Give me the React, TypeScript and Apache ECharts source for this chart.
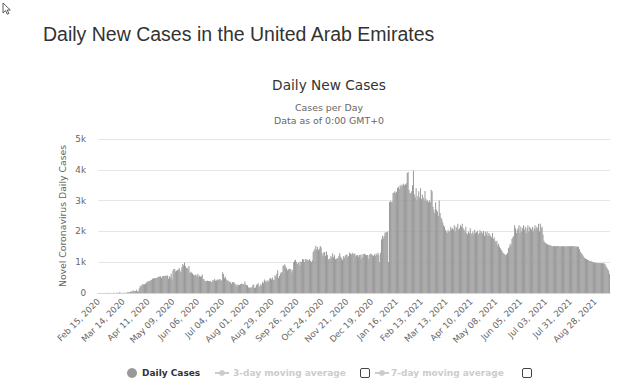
import React, { useEffect, useRef } from "react";
import * as echarts from "echarts";

// ---- Data (daily new cases) ----
const feb2020 = [0, 1, 0, 0, 0, 2, 0, 0, 2, 0, 0, 0, 6, 0, 0];
const mar2020 = [0, 0, 6, 0, 0, 0, 16, 0, 0, 29, 0, 11, 0, 0, 13, 0, 0, 15, 27, 27, 13, 45, 45, 50, 85, 72, 63, 63, 102, 41, 53];
const apr2020 = [150, 210, 240, 241, 294, 277, 283, 300, 331, 370, 376, 387, 398, 412, 432, 460, 477, 479, 484, 490, 483, 518, 525, 532, 536, 490, 541, 549, 552, 557];
const may2020 = [561, 564, 567, 462, 546, 502, 624, 441, 731, 781, 783, 698, 725, 747, 751, 812, 731, 674, 832, 941, 892, 994, 873, 812, 822, 779, 883, 638, 687, 661, 635];
const jun2020 = [596, 571, 596, 589, 540, 624, 528, 568, 528, 542, 600, 453, 450, 388, 378, 399, 398, 380, 392, 393, 359, 362, 426, 409, 458, 399, 403, 435, 420, 449];
const jul2020 = [458, 402, 414, 672, 613, 490, 532, 445, 403, 409, 385, 350, 358, 289, 348, 359, 339, 264, 294, 211, 266, 265, 258, 286, 300, 298, 290, 264, 375, 283, 254];
const aug2020 = [254, 189, 164, 179, 179, 189, 254, 277, 163, 179, 262, 295, 320, 202, 225, 291, 245, 365, 318, 435, 390, 347, 411, 364, 401, 461, 486, 435, 506, 428, 410];
const sep2020 = [574, 528, 627, 735, 483, 551, 634, 676, 673, 880, 900, 931, 860, 807, 730, 768, 790, 776, 772, 667, 750, 1002, 1050, 1083, 1005, 939, 978, 1010, 901, 1024];
const oct2020 = [1005, 1100, 1085, 1008, 1100, 1078, 1096, 1059, 1062, 1100, 1036, 1000, 1061, 1330, 1391, 1433, 1538, 1415, 1491, 1387, 1434, 1530, 1480, 1296, 1211, 1317, 1332, 1204, 1350, 1233, 1097];
const nov2020 = [1096, 1118, 1209, 1143, 1289, 1157, 1225, 1096, 1121, 1116, 1136, 1209, 1289, 1175, 1121, 1061, 1192, 1136, 1209, 1239, 1250, 1167, 1203, 1314, 1276, 1250, 1310, 1268, 1281, 1271];
const dec2020 = [1197, 1225, 1237, 1175, 1234, 1240, 1114, 1255, 1167, 1265, 1274, 1238, 1226, 1234, 1103, 1229, 1261, 1284, 1253, 1226, 1205, 1257, 1211, 1283, 1227, 1310, 1242, 1000, 1306, 1734, 1856];
const jan2021 = [1780, 1856, 1967, 1963, 1982, 2000, 1000, 2950, 2998, 2950, 2960, 3243, 3262, 3300, 3250, 3290, 3407, 3450, 3380, 3500, 3450, 3520, 3480, 3550, 3500, 3520, 3560, 3900, 3930, 3350, 3250];
const feb2021 = [3250, 3300, 3500, 3977, 3200, 3100, 3400, 3000, 3150, 3300, 3100, 3400, 3050, 3200, 3100, 3000, 3310, 3060, 2990, 3000, 2950, 3000, 2950, 3350, 3300, 2800, 2700, 2600];
const mar2021 = [2950, 2700, 2650, 2500, 3000, 2600, 2450, 2400, 2300, 2200, 2150, 2050, 2000, 1950, 2050, 1980, 2010, 2150, 2060, 2100, 2050, 2200, 2000, 2150, 2100, 2250, 2050, 2100, 2200, 2150, 2250];
const apr2021 = [2100, 2050, 2000, 2150, 1950, 1900, 2000, 1950, 2100, 1900, 1950, 2000, 1900, 2050, 1950, 1980, 2020, 1900, 1950, 2040, 1960, 2000, 1930, 2010, 1850, 1990, 1900, 2000, 1850, 1950];
const may2021 = [1900, 1850, 1800, 1950, 1750, 1800, 1700, 1650, 1700, 1550, 1600, 1500, 1450, 1400, 1350, 1300, 1280, 1250, 1230, 1250, 1300, 1450, 1500, 1600, 1550, 1750, 1800, 1850, 2200, 2100, 1950];
const jun2021 = [2050, 2100, 2200, 1950, 2150, 2000, 2100, 2200, 2050, 2150, 1950, 2100, 2200, 2000, 2150, 2100, 2050, 2150, 2000, 2100, 2200, 2050, 2150, 2100, 2250, 2000, 2250, 2100, 2150, 1900];
const jul2021 = [1700, 1650, 1620, 1600, 1580, 1570, 1560, 1550, 1540, 1530, 1519, 1521, 1522, 1514, 1517, 1527, 1525, 1515, 1512, 1520, 1511, 1529, 1510, 1518, 1513, 1521, 1516, 1528, 1519, 1525, 1511];
const aug2021 = [1522, 1515, 1527, 1520, 1512, 1510, 1508, 1505, 1498, 1430, 1350, 1300, 1270, 1220, 1180, 1140, 1110, 1100, 1080, 1070, 1050, 1040, 1030, 1020, 1010, 995, 985, 984, 980, 978, 976];
const sep2021 = [975, 972, 970, 968, 965, 963, 960, 930, 870, 820, 780, 720, 620];

const dailyCases = [
  ...feb2020, ...mar2020, ...apr2020, ...may2020, ...jun2020, ...jul2020,
  ...aug2020, ...sep2020, ...oct2020, ...nov2020, ...dec2020,
  ...jan2021, ...feb2021, ...mar2021, ...apr2021, ...may2021, ...jun2021,
  ...jul2021, ...aug2021, ...sep2021,
];

const monthNames = ["Jan", "Feb", "Mar", "Apr", "May", "Jun", "Jul", "Aug", "Sep", "Oct", "Nov", "Dec"];
const firstDay = Date.UTC(2020, 1, 15);
const categories = dailyCases.map((_, i) => {
  const d = new Date(firstDay + i * 86400000);
  return `${monthNames[d.getUTCMonth()]} ${String(d.getUTCDate()).padStart(2, "0")}, ${d.getUTCFullYear()}`;
});

const yTickLabels = ["0", "1k", "2k", "3k", "4k", "5k"];

const pageTitle = "Daily New Cases in the United Arab Emirates";
const chartTitle = "Daily New Cases";
const subtitleLines = ["Cases per Day", "Data as of 0:00 GMT+0"];
const yAxisTitle = "Novel Coronavirus Daily Cases";
const legendNames = ["Daily Cases", "3-day moving average", "7-day moving average"];

const SANS = "'DejaVu Sans', Verdana, sans-serif";

export default function App() {
  const ref = useRef<HTMLDivElement>(null);
  useEffect(() => {
    if (!ref.current) return;
    const chart = echarts.init(ref.current, undefined, { renderer: "svg" });
    const legendY = 373;
    chart.setOption({
      animation: false,
      backgroundColor: "#fff",
      grid: { left: 98, right: 18, top: 139, bottom: 99, containLabel: false },
      xAxis: {
        type: "category",
        data: categories,
        boundaryGap: true,
        axisLine: { lineStyle: { color: "#ccd6eb", width: 1 } },
        axisTick: { show: false },
        axisLabel: {
          interval: 27,
          rotate: 45,
          color: "#666",
          fontSize: 8.6,
          fontFamily: SANS,
          margin: 7,
        },
        splitLine: { show: false },
      },
      yAxis: {
        type: "value",
        min: 0,
        max: 5000,
        interval: 1000,
        axisLine: { show: false },
        axisTick: { show: false },
        axisLabel: {
          formatter: (v: number) => yTickLabels[Math.round(v / 1000)],
          color: "#666",
          fontSize: 8.8,
          fontFamily: SANS,
          margin: 12,
        },
        splitLine: { lineStyle: { color: "#e6e6e6", width: 1 } },
      },
      series: [
        {
          type: "bar",
          name: legendNames[0],
          data: dailyCases,
          barCategoryGap: "0%",
          itemStyle: { color: "#999999" },
          silent: true,
        },
      ],
      graphic: [
        {
          type: "polygon",
          shape: { points: [[3, 3], [3, 13], [5.5, 10.6], [7.4, 14.2], [8.9, 13.5], [7.1, 10], [10.3, 10]] },
          style: { fill: "#fff", stroke: "#333", lineWidth: 0.8 },
        },
        {
          type: "text",
          x: 43,
          y: 34,
          style: { text: pageTitle, fontSize: 19.5, fontFamily: "'Liberation Sans', Arial, sans-serif", fill: "#333", align: "left", verticalAlign: "middle" },
        },
        {
          type: "text",
          x: 329,
          y: 84.5,
          style: { text: chartTitle, fontSize: 13.7, fontFamily: SANS, fill: "#333", align: "center", verticalAlign: "middle" },
        },
        {
          type: "text",
          x: 329,
          y: 107,
          style: { text: subtitleLines[0], fontSize: 9.4, fontFamily: SANS, fill: "#666", align: "center", verticalAlign: "middle" },
        },
        {
          type: "text",
          x: 329,
          y: 120,
          style: { text: subtitleLines[1], fontSize: 9.4, fontFamily: SANS, fill: "#666", align: "center", verticalAlign: "middle" },
        },
        {
          type: "text",
          x: 62,
          y: 216,
          rotation: Math.PI / 2,
          style: { text: yAxisTitle, fontSize: 9.3, fontFamily: SANS, fill: "#666", align: "center", verticalAlign: "middle" },
        },
        // legend
        { type: "circle", shape: { cx: 132, cy: legendY, r: 5 }, style: { fill: "#999999" } },
        {
          type: "text",
          x: 142,
          y: legendY,
          style: { text: legendNames[0], fontSize: 9, fontWeight: "bold", fontFamily: SANS, fill: "#333", align: "left", verticalAlign: "middle" },
        },
        { type: "line", shape: { x1: 215, y1: legendY, x2: 229, y2: legendY }, style: { stroke: "#ccc", lineWidth: 2 } },
        { type: "circle", shape: { cx: 222, cy: legendY, r: 3 }, style: { fill: "#ccc" } },
        {
          type: "text",
          x: 233,
          y: legendY,
          style: { text: legendNames[1], fontSize: 9, fontWeight: "bold", fontFamily: SANS, fill: "#ccc", align: "left", verticalAlign: "middle" },
        },
        { type: "rect", shape: { x: 360.5, y: 368.5, width: 9, height: 9, r: 1.5 }, style: { fill: "#fff", stroke: "#444", lineWidth: 1 } },
        { type: "line", shape: { x1: 375, y1: legendY, x2: 389, y2: legendY }, style: { stroke: "#ccc", lineWidth: 2 } },
        { type: "circle", shape: { cx: 382, cy: legendY, r: 3 }, style: { fill: "#ccc" } },
        {
          type: "text",
          x: 391,
          y: legendY,
          style: { text: legendNames[2], fontSize: 9, fontWeight: "bold", fontFamily: SANS, fill: "#ccc", align: "left", verticalAlign: "middle" },
        },
        { type: "rect", shape: { x: 522.5, y: 368.5, width: 9, height: 9, r: 1.5 }, style: { fill: "#fff", stroke: "#444", lineWidth: 1 } },
      ],
    });
    return () => chart.dispose();
  }, []);
  return (
    <div
      ref={ref}
      style={{ position: "fixed", left: 0, top: 0, width: 628, height: 392, background: "#fff" }}
    />
  );
}
